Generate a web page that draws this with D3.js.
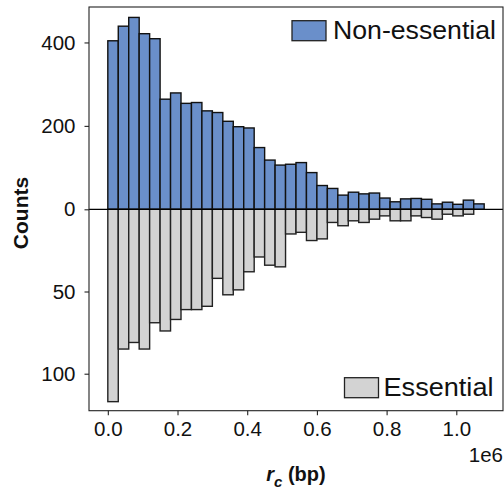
<!DOCTYPE html>
<html>
<head>
<meta charset="utf-8">
<script src="https://cdn.jsdelivr.net/npm/d3@7"></script>
<style>
body { margin: 0; background: #fff; }
svg text { font-family: 'Liberation Sans', Arial, sans-serif; fill: #111; }
</style>
</head>
<body>
<div id="chart"></div>
<script>
// histogram counts, bin width 30 kb, 36 bins starting at 0
var binWidth = 30000;
var nonEssential = [404, 439, 460, 421, 409, 264, 279, 254, 256, 236, 232, 211, 198, 195, 148, 118, 106, 108,
	112, 88, 57, 50, 34, 41, 37, 39, 27, 18, 25, 26, 24, 13, 17, 12, 22, 13];
var essential = [117, 85, 81, 85, 69, 74, 67, 61, 61, 59, 42, 52, 49, 38, 29, 34, 35, 15,
	14, 19, 18, 8, 10, 7, 8, 6, 4, 7, 7, 4, 5, 6, 3, 4, 3, 0];
var binStarts = nonEssential.map(function(d, i) { return i * binWidth; });
var xTicks = [0, 200000, 400000, 600000, 800000, 1000000];
var topTicks = [0, 200, 400];
var bottomTicks = [50, 100];

var width = 504, height = 492;
var plotLeft = 89, plotRight = 503, plotTop = 7, plotBottom = 410.7, zeroY = 209.3;

var svg = d3.select("#chart").append("svg")
		.attr("width", width).attr("height", height);

var x = d3.scaleLinear().domain([-54000, 1134000]).range([plotLeft, plotRight]);
var yTop = d3.scaleLinear().domain([0, 485]).range([zeroY, plotTop]);
var yBot = d3.scaleLinear().domain([0, 122.5]).range([zeroY, plotBottom]);

var blue = "#6a8fca", grey = "#d3d3d3";

svg.append("g").selectAll("rect")
	.data(nonEssential)
	.enter().append("rect")
		.attr("x", function(d, i) { return x(binStarts[i]); })
		.attr("width", x(binWidth) - x(0))
		.attr("y", function(d) { return yTop(d); })
		.attr("height", function(d) { return zeroY - yTop(d); })
		.attr("fill", blue)
		.attr("stroke", "#111")
		.attr("stroke-width", 1.4);

svg.append("g").selectAll("rect")
	.data(essential.map(function(d, i) { return {v: d, x0: binStarts[i]}; }).filter(function(d) { return d.v > 0; }))
	.enter().append("rect")
		.attr("x", function(d) { return x(d.x0); })
		.attr("width", x(binWidth) - x(0))
		.attr("y", zeroY)
		.attr("height", function(d) { return yBot(d.v) - zeroY; })
		.attr("fill", grey)
		.attr("stroke", "#222")
		.attr("stroke-width", 1.4);

// zero line
svg.append("line")
	.attr("x1", plotLeft).attr("x2", plotRight)
	.attr("y1", zeroY).attr("y2", zeroY)
	.attr("stroke", "#000").attr("stroke-width", 1.2);

// frame
svg.append("rect")
	.attr("x", plotLeft).attr("y", plotTop)
	.attr("width", plotRight - plotLeft).attr("height", plotBottom - plotTop)
	.attr("fill", "none").attr("stroke", "#222").attr("stroke-width", 1.1);

var styleAxis = function(g) {
	g.select(".domain").remove();
	g.selectAll(".tick line").attr("stroke", "#222").attr("stroke-width", 1.1);
	g.selectAll(".tick text").attr("font-size", 20.5).attr("fill", "#111")
		.style("font-family", "'Liberation Sans', Arial, sans-serif");
};

svg.append("g").attr("transform", "translate(" + plotLeft + ",0)")
	.call(d3.axisLeft(yTop).tickValues(topTicks).tickSize(4.5).tickPadding(9).tickFormat(d3.format("d")))
	.call(styleAxis);
svg.append("g").attr("transform", "translate(" + plotLeft + ",0)")
	.call(d3.axisLeft(yBot).tickValues(bottomTicks).tickSize(4.5).tickPadding(9).tickFormat(d3.format("d")))
	.call(styleAxis);
svg.append("g").attr("transform", "translate(0," + plotBottom + ")")
	.call(d3.axisBottom(x).tickValues(xTicks).tickSize(4.5).tickPadding(6)
		.tickFormat(function(d) { return d3.format(".1f")(d / 1e6); }))
	.call(styleAxis);

svg.append("text")
	.attr("x", plotRight).attr("y", 462)
	.attr("text-anchor", "end").attr("font-size", 20.5)
	.text("1e6");

// axis labels
var xl = svg.append("text")
	.attr("x", 296).attr("y", 481)
	.attr("text-anchor", "middle").attr("font-size", 20).attr("font-weight", "bold");
xl.append("tspan").attr("font-style", "italic").text("r");
xl.append("tspan").attr("font-style", "italic").attr("font-size", 15).attr("dy", 6).text("c");
xl.append("tspan").attr("dy", -6).text(" (bp)");

svg.append("text")
	.attr("transform", "translate(28,213) rotate(-90)")
	.attr("text-anchor", "middle").attr("font-size", 21).attr("font-weight", "bold")
	.text("Counts");

// legends
var legend = [
	{label: "Non-essential", fill: blue, px: 292, tx: 333, tw: 163, y: 20.7, base: 39},
	{label: "Essential", fill: grey, px: 344.5, tx: 383.5, tw: 110, y: 377.7, base: 395.5}
];
legend.forEach(function(l) {
	svg.append("rect")
		.attr("x", l.px).attr("y", l.y)
		.attr("width", 34).attr("height", 20)
		.attr("fill", l.fill).attr("stroke", "#222").attr("stroke-width", 1.3);
	svg.append("text")
		.attr("x", l.tx).attr("y", l.base)
		.attr("font-size", 25)
		.attr("textLength", l.tw).attr("lengthAdjust", "spacingAndGlyphs")
		.text(l.label);
});
</script>
</body>
</html>
